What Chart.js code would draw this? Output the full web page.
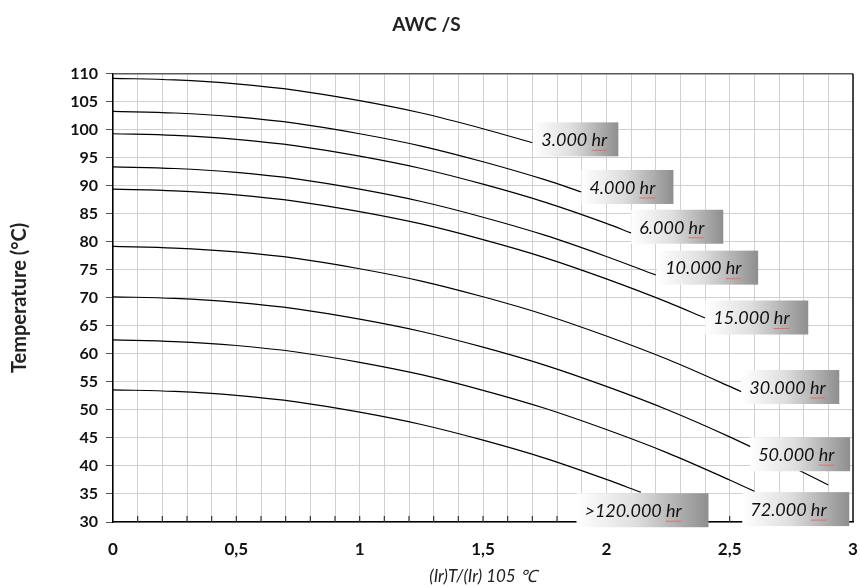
<!DOCTYPE html>
<html>
<head>
<meta charset="utf-8">
<script src="https://cdn.jsdelivr.net/npm/chart.js@4.4.1/dist/chart.umd.min.js"></script>
<style>
  body { margin: 0; background: #fff; }
  #wrap { width: 860px; height: 587px; }
</style>
</head>
<body>
<div id="wrap"><canvas id="awcChart" width="860" height="587"></canvas></div>
<script>
// x = (Ir)T/(Ir)105°C, y = temperature (°C)
const xGrid = [0, 0.25, 0.5, 0.75, 1, 1.25, 1.5, 1.75, 2, 2.25, 2.5, 2.75];

const life3000   = [109.2, 108.9, 108.2, 107.0, 105.2, 103.0, 100.2];
const life4000   = [103.3, 103.0, 102.3, 101.1, 99.3, 97.1, 94.3, 91.1];
const life6000   = [99.3, 99.0, 98.3, 97.1, 95.3, 93.1, 90.3, 87.1, 83.3];
const life10000  = [93.4, 93.1, 92.4, 91.2, 89.4, 87.2, 84.4, 81.2, 77.4];
const life15000  = [89.4, 89.1, 88.4, 87.2, 85.4, 83.2, 80.4, 77.2, 73.4, 69.2];
const life30000  = [79.2, 78.9, 78.2, 77.0, 75.2, 73.0, 70.2, 67.0, 63.2, 59.0, 54.2];
const life50000  = [70.2, 69.9, 69.2, 68.0, 66.2, 64.0, 61.2, 58.0, 54.2, 50.0, 45.2, 39.9];
const life72000  = [62.5, 62.2, 61.5, 60.3, 58.5, 56.3, 53.5, 50.3, 46.5, 42.3, 37.5];
const life120000 = [53.6, 53.3, 52.6, 51.4, 49.6, 47.4, 44.6, 41.4, 37.6];

// where each curve stops
const endX = [1.70, 1.90, 2.10, 2.20, 2.40, 2.55, 2.90, 2.60, 2.14];
const endY = [97.7, 88.9, 81.6, 74.1, 66.4, 53.2, 36.6, 35.5, 35.3];

const lifeNames = ['3.000 hr', '4.000 hr', '6.000 hr', '10.000 hr', '15.000 hr',
                   '30.000 hr', '50.000 hr', '72.000 hr', '>120.000 hr'];
const allSeries = [life3000, life4000, life6000, life10000, life15000,
                   life30000, life50000, life72000, life120000];

// label boxes: left edge (x value), vertical centre (y value), width px
const labelBoxes = [
  { x: 1.704, y: 98.3, w: 85 },
  { x: 1.899, y: 89.8, w: 92 },
  { x: 2.101, y: 82.7, w: 92 },
  { x: 2.206, y: 75.4, w: 101 },
  { x: 2.401, y: 66.5, w: 103 },
  { x: 2.547, y: 54.1, w: 98 },
  { x: 2.583, y: 42.1, w: 100 },
  { x: 2.551, y: 32.3, w: 107 },
  { x: 1.879, y: 32.1, w: 132 }
];

const datasets = allSeries.map((vals, i) => {
  const pts = vals.map((v, j) => ({ x: xGrid[j], y: v }));
  pts.push({ x: endX[i], y: endY[i] });
  return {
    label: lifeNames[i],
    data: pts,
    borderColor: '#000',
    borderWidth: 1.2,
    pointRadius: 0,
    fill: false,
    cubicInterpolationMode: 'monotone'
  };
});

const fontFam = 'Lato, "Open Sans", sans-serif';

const decorPlugin = {
  id: 'decor',
  afterDraw(chart) {
    const ctx = chart.ctx;
    const a = chart.chartArea;
    const xs = chart.scales.x, ys = chart.scales.y;
    ctx.save();
    // frame: top and right
    ctx.lineWidth = 1.5;
    ctx.strokeStyle = '#5a5a5a';
    ctx.beginPath(); ctx.moveTo(a.left, a.top); ctx.lineTo(a.right, a.top); ctx.stroke();
    ctx.strokeStyle = '#111';
    ctx.beginPath(); ctx.moveTo(a.right, a.top); ctx.lineTo(a.right, a.bottom); ctx.stroke();
    // inward ticks on x axis
    ctx.strokeStyle = '#333';
    ctx.lineWidth = 1.2;
    for (let i = 1; i < 30; i++) {
      const px = xs.getPixelForValue(i / 10);
      ctx.beginPath(); ctx.moveTo(px, a.bottom); ctx.lineTo(px, a.bottom - 6); ctx.stroke();
    }
    // label boxes
    ctx.font = 'italic 18px ' + fontFam;
    ctx.textBaseline = 'middle';
    labelBoxes.forEach((b, i) => {
      const left = xs.getPixelForValue(b.x);
      const cy = ys.getPixelForValue(b.y);
      const h = 34;
      const top = cy - h / 2;
      const g = ctx.createLinearGradient(left, 0, left + b.w, 0);
      g.addColorStop(0, '#ffffff');
      g.addColorStop(0.45, '#dedede');
      g.addColorStop(1, '#8e8e8e');
      ctx.fillStyle = g;
      ctx.fillRect(left, top, b.w, h);
      ctx.fillStyle = '#111';
      const tx = left + 8;
      ctx.fillText(lifeNames[i], tx, cy + 1);
      // red spell-check underline under "hr"
      const full = ctx.measureText(lifeNames[i]).width;
      const hrW = ctx.measureText('hr').width;
      ctx.strokeStyle = '#e07070';
      ctx.lineWidth = 1;
      ctx.beginPath();
      ctx.moveTo(tx + full - hrW, cy + 11);
      ctx.lineTo(tx + full, cy + 11);
      ctx.stroke();
    });
    ctx.restore();
  }
};

new Chart(document.getElementById('awcChart').getContext('2d'), {
  type: 'line',
  data: { datasets: datasets },
  options: {
    responsive: false,
    animation: false,
    layout: { padding: { left: 0, right: 7, top: 0, bottom: 0 } },
    plugins: {
      legend: { display: false },
      tooltip: { enabled: false },
      title: {
        display: true,
        text: 'AWC /S',
        color: '#222',
        font: { family: fontFam, size: 19, weight: 'bold' },
        padding: { top: 13, bottom: 38 }
      }
    },
    scales: {
      x: {
        type: 'linear',
        min: 0,
        max: 3,
        afterFit(scale) {
          scale.height = 65;
          scale.paddingLeft = 0;
          scale.paddingRight = 0;
        },
        ticks: {
          stepSize: 0.1,
          autoSkip: false,
          maxRotation: 0,
          padding: 17,
          color: '#111',
          font: { family: fontFam, size: 17, weight: 'bold' },
          callback: function (v) {
            const t = Math.round(v * 10);
            if (t % 5 !== 0) return '';
            return String(t / 10).replace('.', ',');
          }
        },
        grid: { color: '#d0d0d0', drawTicks: false },
        border: { color: '#000', width: 1.5 },
        title: {
          display: true,
          text: '(Ir)T/(Ir) 105 ℃',
          color: '#222',
          font: { family: fontFam, size: 17, style: 'italic' },
          padding: { top: 2, bottom: 0 }
        }
      },
      y: {
        min: 30,
        max: 110,
        afterFit(scale) { scale.width = 113; },
        ticks: {
          stepSize: 5,
          padding: 8,
          color: '#111',
          font: { family: fontFam, size: 16, weight: 'bold' }
        },
        grid: { color: '#d0d0d0', tickColor: '#555', tickLength: 7 },
        border: { color: '#000', width: 1.5 },
        title: {
          display: true,
          text: 'Temperature (°C)',
          color: '#222',
          font: { family: fontFam, size: 20, weight: 'bold' },
          padding: { top: 8, bottom: 0 }
        }
      }
    }
  },
  plugins: [decorPlugin]
});
</script>
</body>
</html>
